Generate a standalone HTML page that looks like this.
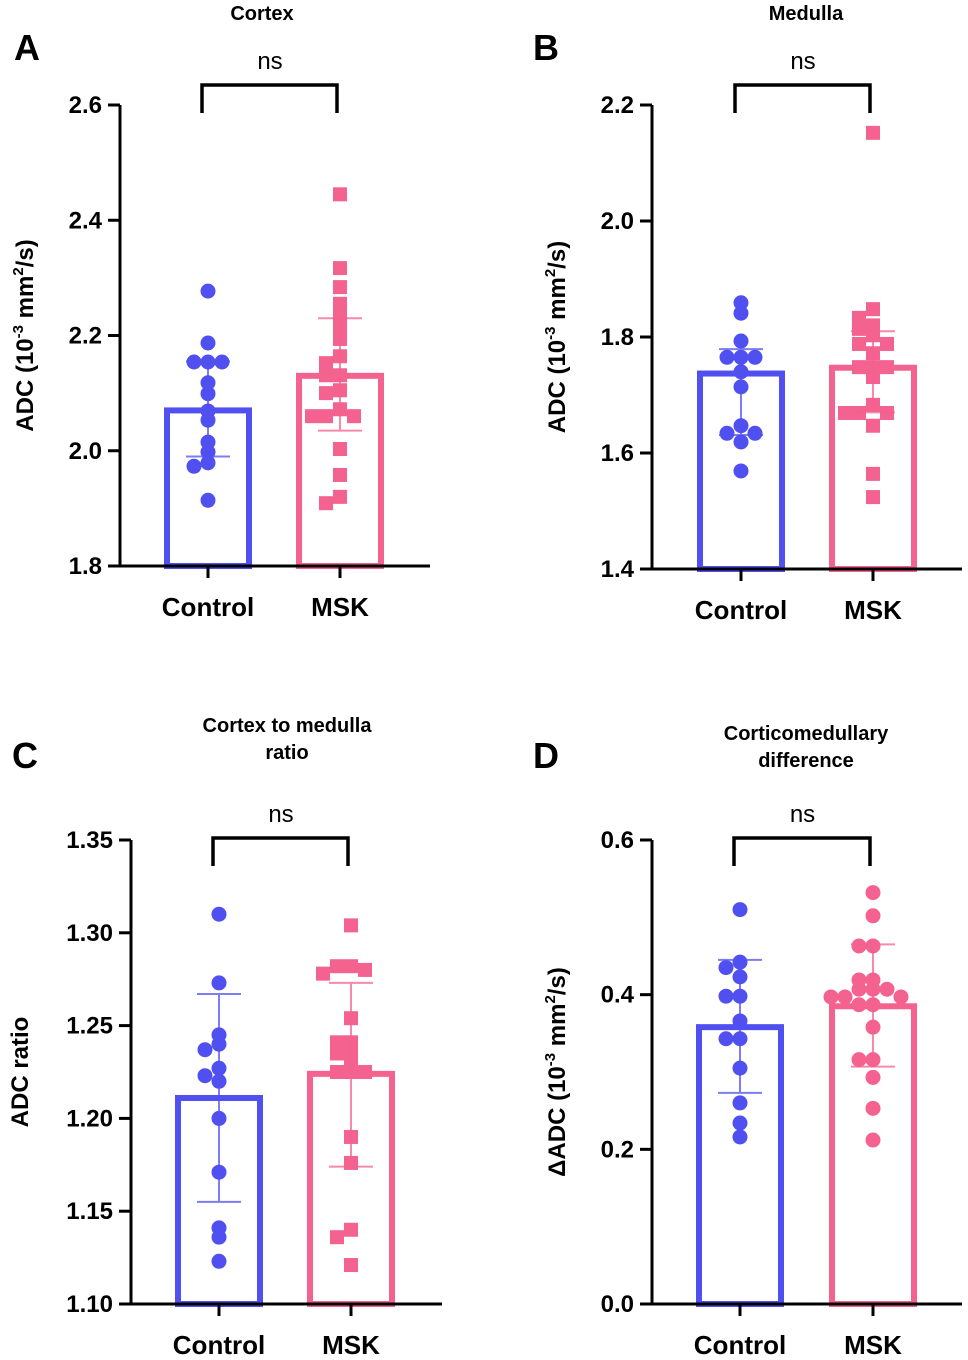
<!DOCTYPE html>
<html><head><meta charset="utf-8"><style>
body{margin:0;background:#fff;}
svg{display:block;font-family:"Liberation Sans",sans-serif;}
</style></head><body>
<svg id="chart" width="968" height="1360" viewBox="0 0 968 1360"></svg>
<script>
const categories=["Control","MSK"];
const ctrlA=[2.277,2.187,2.154,2.154,2.154,2.118,2.099,2.069,2.053,2.015,1.998,1.979,1.973,1.914];
const mskA=[2.445,2.317,2.284,2.255,2.232,2.215,2.194,2.164,2.152,2.131,2.131,2.105,2.1,2.072,2.06,2.06,2.06,2.003,1.958,1.92,1.909];
const meanA=[2.07,2.13];const sdLoA=[1.99,2.035];const sdHiA=[2.155,2.23];
const ticksA=[1.8,2.0,2.2,2.4,2.6];
const ctrlB=[1.859,1.841,1.793,1.765,1.765,1.765,1.74,1.714,1.647,1.634,1.634,1.619,1.569];
const mskB=[2.152,1.848,1.833,1.82,1.814,1.803,1.788,1.788,1.772,1.748,1.748,1.748,1.731,1.683,1.669,1.669,1.669,1.647,1.564,1.524];
const meanB=[1.737,1.747];const sdLoB=[1.631,1.67];const sdHiB=[1.779,1.81];
const ticksB=[1.4,1.6,1.8,2.0,2.2];
const ctrlC=[1.31,1.273,1.245,1.24,1.237,1.227,1.223,1.22,1.2,1.171,1.141,1.136,1.123];
const mskC=[1.304,1.282,1.282,1.28,1.278,1.254,1.241,1.241,1.235,1.235,1.23,1.225,1.225,1.225,1.19,1.176,1.14,1.136,1.121];
const meanC=[1.211,1.224];const sdLoC=[1.155,1.174];const sdHiC=[1.267,1.273];
const ticksC=[1.10,1.15,1.20,1.25,1.30,1.35];
const ctrlD=[0.51,0.442,0.435,0.423,0.398,0.398,0.366,0.343,0.343,0.305,0.26,0.234,0.216];
const mskD=[0.532,0.502,0.463,0.463,0.419,0.419,0.407,0.407,0.407,0.397,0.397,0.397,0.387,0.387,0.358,0.316,0.316,0.293,0.253,0.212];
const meanD=[0.358,0.385];const sdLoD=[0.273,0.307];const sdHiD=[0.445,0.465];
const ticksD=[0.0,0.2,0.4,0.6];

const NS="http://www.w3.org/2000/svg";
const svg=document.getElementById("chart");
const BLUE="#5050f0",PINK="#f4628f";
function mk(tag,attrs,parent,text){const e=document.createElementNS(NS,tag);for(const k in attrs)e.setAttribute(k,attrs[k]);if(text!==undefined)e.textContent=text;(parent||svg).appendChild(e);return e;}

function panel(cfg){
  const g=mk("g",{});
  
  
  const y=v=>cfg.y0+(v-cfg.vmin)/(cfg.vmax-cfg.vmin)*(cfg.y1-cfg.y0);
  const cx=[cfg.cx0,cfg.cx1];
  const means=cfg.means;
  [0,1].forEach(i=>{
    const col=i?PINK:BLUE;
    const r=mk("rect",{x:cx[i]-41,y:y(means[i]),width:82,height:y(cfg.vmin)-y(means[i]),fill:"none",stroke:col,"stroke-width":6},g);
    
    
  });
  [cfg.ctrl,cfg.msk].forEach((arr,i)=>{
    const col=i?PINK:BLUE;const placed=[];
    arr.forEach(v=>{
      const py=y(v);let off=0;
      const cand=[0,-1,1,-2,2,-3,3];
      for(const c of cand){const px=cx[i]+c*14;if(!placed.some(p=>Math.abs(p[0]-px)<12&&Math.abs(p[1]-py)<9)){off=c;break;}}
      const px=cx[i]+off*14;placed.push([px,py]);
      let m;
      if(cfg.square[i]) m=mk("rect",{x:px-7,y:py-7,width:14,height:14,fill:col},g);
      else m=mk("circle",{cx:px,cy:py,r:7.5,fill:col},g);
      
      
    });
    const eb=mk("path",{d:`M${cx[i]} ${y(cfg.lo[i])}V${y(cfg.hi[i])}M${cx[i]-22} ${y(cfg.lo[i])}h44M${cx[i]-22} ${y(cfg.hi[i])}h44`,stroke:col,"stroke-width":2,fill:"none",opacity:0.75},g);
    
    
  });
  const ya=mk("path",{d:`M${cfg.ax} ${cfg.y1}V${cfg.y0}`,stroke:"#000","stroke-width":3,fill:"none"},g);
  
  const xa=mk("path",{d:`M${cfg.ax-1.5} ${cfg.y0}H${cfg.axEnd}M${cx[0]} ${cfg.y0}v12M${cx[1]} ${cfg.y0}v12`,stroke:"#000","stroke-width":3,fill:"none"},g);
  
  cfg.ticks.forEach(t=>{
    mk("path",{d:`M${cfg.ax-12} ${y(t)}H${cfg.ax}`,stroke:"#000","stroke-width":3},g);
    const tl=mk("text",{x:cfg.ax-18,y:y(t)+8,"text-anchor":"end","font-size":24,"font-weight":"bold"},g,t.toFixed(cfg.dec));
    
  });
  categories.forEach((c,i)=>{
    const t=mk("text",{x:cx[i],y:cfg.y0+50,"text-anchor":"middle","font-size":26,"font-weight":"bold"},g,c);
    
  });
  const br=mk("path",{d:`M${cx[0]-6} ${cfg.brY+28}V${cfg.brY}H${cx[1]-3}V${cfg.brY+28}`,stroke:"#000","stroke-width":3.5,fill:"none"},g);
  
  const ns=mk("text",{x:(cx[0]+cx[1])/2-4,y:cfg.brY-16,"text-anchor":"middle","font-size":24},g,"ns");
  
  cfg.title.forEach((tt,k)=>{
    const t=mk("text",{x:cfg.titleX,y:cfg.titleY+k*27,"text-anchor":"middle","font-size":20,"font-weight":"bold"},g,tt);
    
  });
  const L=mk("text",{x:cfg.letterX,y:cfg.letterY,"font-size":36,"font-weight":"bold"},g,cfg.letter);
  
  const yt=mk("text",{transform:`translate(${cfg.ytX},${(cfg.y0+cfg.y1)/2}) rotate(-90)`,"text-anchor":"middle","font-size":24,"font-weight":"bold"},g);
  
  cfg.ytitle.forEach(p=>{
    const a={};
    if(p.sup){a["font-size"]=15;a.dy=-10;}
    if(p.back){a.dy=10;}
    mk("tspan",a,yt,p.t);
  });
}
const adcTitle=[{t:"ADC (10"},{t:"-3",sup:1},{t:" mm",back:1},{t:"2",sup:1},{t:"/s)",back:1}];
panel({name:"panel-a",letter:"A",letterX:14,letterY:60,title:["Cortex"],titleX:262,titleY:20,ctrl:ctrlA,msk:mskA,means:meanA,lo:sdLoA,hi:sdHiA,ticks:ticksA,dec:1,vmin:1.8,vmax:2.6,y0:566,y1:105,ax:120,axEnd:430,cx0:208,cx1:340,brY:85,ytX:33,ytitle:adcTitle,square:[false,true]});
panel({name:"panel-b",letter:"B",letterX:533,letterY:60,title:["Medulla"],titleX:806,titleY:20,ctrl:ctrlB,msk:mskB,means:meanB,lo:sdLoB,hi:sdHiB,ticks:ticksB,dec:1,vmin:1.4,vmax:2.2,y0:569,y1:105,ax:652,axEnd:962,cx0:741,cx1:873,brY:85,ytX:565,ytitle:adcTitle,square:[false,true]});
panel({name:"panel-c",letter:"C",letterX:12,letterY:768,title:["Cortex to medulla","ratio"],titleX:287,titleY:732,ctrl:ctrlC,msk:mskC,means:meanC,lo:sdLoC,hi:sdHiC,ticks:ticksC,dec:2,vmin:1.10,vmax:1.35,y0:1304,y1:840,ax:131,axEnd:442,cx0:219,cx1:351,brY:838,ytX:28,ytitle:[{t:"ADC ratio"}],square:[false,true]});
panel({name:"panel-d",letter:"D",letterX:533,letterY:768,title:["Corticomedullary","difference"],titleX:806,titleY:740,ctrl:ctrlD,msk:mskD,means:meanD,lo:sdLoD,hi:sdHiD,ticks:ticksD,dec:1,vmin:0,vmax:0.6,y0:1304,y1:840,ax:652,axEnd:962,cx0:740,cx1:873,brY:838,ytX:565,ytitle:[{t:"ΔADC (10"},{t:"-3",sup:1},{t:" mm",back:1},{t:"2",sup:1},{t:"/s)",back:1}],square:[false,false]});
</script>
</body></html>
